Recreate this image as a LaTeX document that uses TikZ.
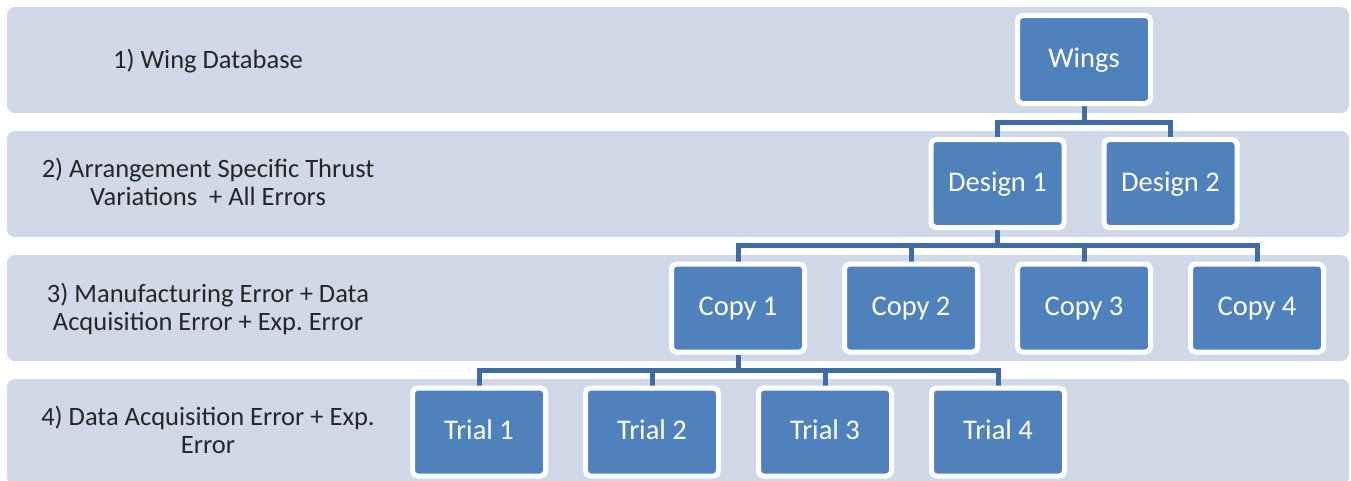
\documentclass[tikz,border=0pt]{standalone}
\usepackage{fontspec}
\setmainfont{Carlito}
\frenchspacing
\definecolor{bandfill}{HTML}{D1D8E8}
\definecolor{boxfill}{HTML}{4F81BD}
\definecolor{connc}{HTML}{3F6CA3}
\definecolor{labelc}{HTML}{262626}
\pgfdeclarelayer{bandlayer}
\pgfdeclarelayer{connlayer}
\pgfsetlayers{bandlayer,connlayer,main}
\tikzset{
  band/.style={fill=bandfill, rounded corners=8pt},
  box/.style={fill=boxfill, draw=white, line width=5pt, rounded corners=5pt,
    minimum width=133pt, minimum height=88pt, text=white,
    font=\fontsize{28.5}{30}\selectfont, text height=18pt, text depth=3pt, inner sep=0pt},
  lbl/.style={text=labelc, align=center, font=\fontsize{26.5}{28}\selectfont, anchor=base, inner sep=0pt},
  conn/.style={draw=connc, line width=5pt}
}
\begin{document}
\begin{tikzpicture}[x=1pt,y=-1pt]
\useasboundingbox (0,0) rectangle (1351,480);
\clip (0,0) rectangle (1351,480);
% labels
\node[lbl] (l1) at (208,68) {1) Wing Database};
\node[lbl] (l2) at (208,205) {2) Arrangement Specific Thrust\\Variations\ \ + All Errors};
\node[lbl] (l3) at (208,330) {3) Manufacturing Error + Data\\Acquisition Error + Exp. Error};
\node[lbl] (l4) at (208,453) {4) Data Acquisition Error + Exp.\\Error};
% boxes
\node[box] (wings) at (1084,59.5) {Wings};
\node[box] (d1) at (997.5,183.5) {Design 1};
\node[box] (d2) at (1170.5,183.5) {Design 2};
\node[box] (c1) at (738,308) {Copy 1};
\node[box] (c2) at (911,308) {Copy 2};
\node[box] (c3) at (1084,308) {Copy 3};
\node[box] (c4) at (1257,308) {Copy 4};
\node[box] (t1) at (479,432) {Trial 1};
\node[box] (t2) at (652,432) {Trial 2};
\node[box] (t3) at (825,432) {Trial 3};
\node[box] (t4) at (998,432) {Trial 4};
% connectors
\begin{pgfonlayer}{connlayer}
\foreach \ch in {d1,d2}{\draw[conn] (wings.south) -- ++(0,16) -| (\ch.north);}
\foreach \ch in {c1,c2,c3,c4}{\draw[conn] (d1.south) -- ++(0,15) -| (\ch.north);}
\foreach \ch in {t1,t2,t3,t4}{\draw[conn] (c1.south) -- ++(0,15.5) -| (\ch.north);}
\end{pgfonlayer}
% bands
\begin{pgfonlayer}{bandlayer}
\fill[white] (0,0) rectangle (1351,480);
\fill[band] (7,7) rectangle (1349,113);
\fill[band] (7,131) rectangle (1349,237);
\fill[band] (7,255) rectangle (1349,361);
\fill[band] (7,379) rectangle (1349,485);
\end{pgfonlayer}
\end{tikzpicture}
\end{document}
